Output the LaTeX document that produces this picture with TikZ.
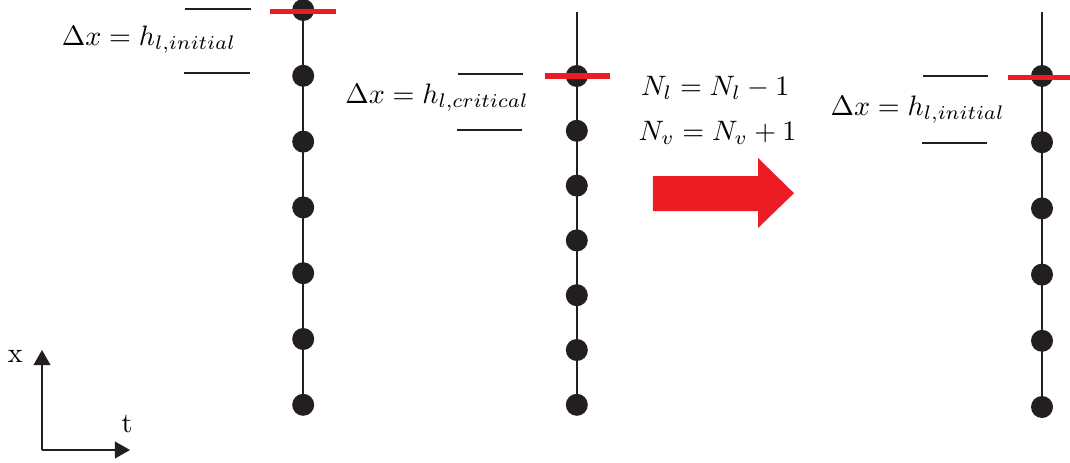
\documentclass[tikz,border=0pt]{standalone}
\usetikzlibrary{arrows.meta}
\definecolor{dotblack}{RGB}{35,31,32}
\definecolor{markred}{RGB}{237,28,36}
\begin{document}
\begin{tikzpicture}[line width=0.7pt,
  dot/.style={circle, fill=dotblack, inner sep=0pt, minimum size=0.275cm},
  redmark/.style={markred, line width=1.8pt},
  bound/.style={dotblack, line width=0.5pt},
  axis/.style={dotblack, -{Triangle[length=1.9mm, width=2.1mm]}}]
  \useasboundingbox (0,0) rectangle (13.375,-5.775);
  % initial spacing
  \foreach \i in {0,...,6} \node[dot] (a\i) at (3.79,{-0.125-0.8225*\i}) {};
  \draw[dotblack] (a0.center) -- (a6.center);
  \draw[redmark] (3.375,-0.14) -- (4.2,-0.14);
  \draw[bound] (2.31,-0.11) -- (3.14,-0.11);
  \draw[bound] (2.30,-0.91) -- (3.13,-0.91);
  \node[anchor=base east] (hinit) at (3.08,-0.565) {$\Delta x = h_{l,initial}$};
  % critical spacing
  \coordinate (btop) at (7.21,-0.15);
  \foreach \i in {0,...,6} \node[dot] (b\i) at (7.21,{-0.95-0.685*\i}) {};
  \draw[dotblack] (btop) -- (b6.center);
  \draw[redmark] (6.81,-0.95) -- (7.625,-0.95);
  \draw[bound] (5.72,-0.925) -- (6.54,-0.925);
  \draw[bound] (5.71,-1.625) -- (6.53,-1.625);
  \node[anchor=base east] (hcrit) at (6.74,-1.29) {$\Delta x = h_{l,critical}$};
  % remesh step
  \node[anchor=base] (nl) at (8.94,-1.19) {$N_l = N_l - 1$};
  \node[anchor=base] (nv) at (8.97,-1.75) {$N_v = N_v + 1$};
  \fill[markred] (8.16,-2.2) -- (9.475,-2.2) -- (9.475,-1.975) -- (9.925,-2.415)
    -- (9.475,-2.85) -- (9.475,-2.64) -- (8.16,-2.64) -- cycle;
  % new spacing
  \coordinate (ctop) at (13.025,-0.15);
  \foreach \i in {0,...,5} \node[dot] (c\i) at (13.025,{-0.95-0.8275*\i}) {};
  \draw[dotblack] (ctop) -- (c5.center);
  \draw[redmark] (12.6,-0.97) -- (13.375,-0.97);
  \draw[bound] (11.54,-0.95) -- (12.35,-0.95);
  \draw[bound] (11.53,-1.79) -- (12.34,-1.79);
  \node[anchor=base east] (hnew) at (12.69,-1.44) {$\Delta x = h_{l,initial}$};
  % axes
  \coordinate (o) at (0.525,-5.625);
  \coordinate (xend) at (0.525,-4.375);
  \coordinate (tend) at (1.625,-5.625);
  \draw[axis] (o) -- (xend);
  \draw[axis] (o) -- (tend);
  \node (xlab) at (0.19,-4.45) {x};
  \node (tlab) at (1.59,-5.3) {t};
\end{tikzpicture}
\end{document}
